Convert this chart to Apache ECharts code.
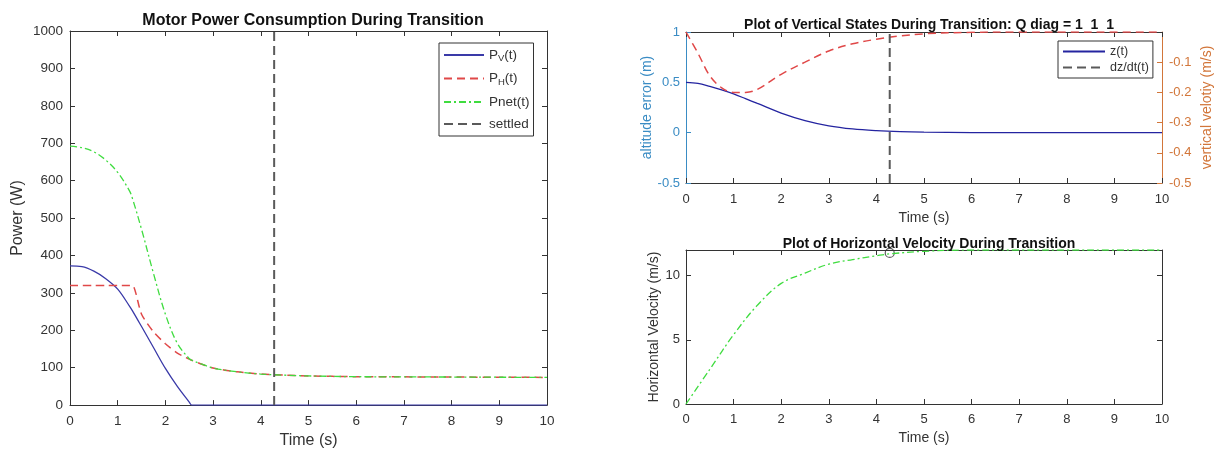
<!DOCTYPE html>
<html>
<head>
<meta charset="UTF-8"/>
<title>Transition plots</title>
<script src="https://cdn.jsdelivr.net/npm/echarts@6.0.0/dist/echarts.min.js"></script>
<style>
  html, body { margin: 0; padding: 0; background: #fff; }
  #chart { width: 1219px; height: 454px; }
</style>
</head>
<body>
<div id="chart"></div>
<script>
// ---- data ----
const settledT = 4.28;

// left plot: motor power (W)
const timeP = [0, 0.25, 0.5, 0.75, 1.0, 1.25, 1.31, 1.5, 1.75, 2.0, 2.25, 2.5, 2.55, 2.75, 3.0, 3.5, 4.0, 4.5, 5, 6, 7, 8, 9, 10];
const powerV = [372, 370, 358, 338, 310, 264, 252, 210, 154, 98, 50, 8, 0, 0, 0, 0, 0, 0, 0, 0, 0, 0, 0, 0];
const powerH = [320, 320, 320, 320, 320, 320, 320, 243, 196, 164, 139, 123, 120, 110, 99, 89, 83, 80, 78, 76, 75.5, 75, 74.5, 74];
const powerNet = [692, 688, 677, 655, 622, 572, 552, 470, 352, 243, 165, 124, 120, 110, 99, 89, 83, 80, 78, 76, 75.5, 75, 74.5, 74];

// top right: vertical states
const timeV = [0, 0.25, 0.5, 0.75, 1.0, 1.25, 1.5, 2, 2.5, 3, 3.5, 4, 4.5, 5, 6, 7, 8, 9, 10];
const altErr = [0.5, 0.49, 0.46, 0.425, 0.385, 0.338, 0.29, 0.195, 0.12, 0.068, 0.037, 0.02, 0.01, 0.005, 0.001, 0, 0, 0, 0];
const vertVel = [0, -0.07, -0.145, -0.185, -0.2, -0.2, -0.19, -0.14, -0.1, -0.063, -0.039, -0.024, -0.013, -0.006, -0.001, 0, 0, 0, 0];

// bottom right: horizontal velocity (m/s)
const timeH = [0, 0.5, 1.0, 1.5, 2.0, 2.5, 3.0, 3.5, 4.0, 4.28, 5, 6, 7, 8, 9, 10];
const horizVel = [0, 2.7, 5.4, 7.7, 9.4, 10.2, 10.9, 11.25, 11.55, 11.7, 11.9, 12, 12, 12, 12, 12];
const settledMark = [[settledT, 11.77]];

const pairs = (xs, ys) => xs.map((x, i) => [x, ys[i]]);

const FONT = 'Liberation Sans, Arial, Helvetica, sans-serif';
const INK = '#333';
const LEFT_C = '#3a8cc4';
const RIGHT_C = '#d2763a';
const plain = v => String(v);

function xAxis(grid, pos, opts) {
  return Object.assign({
    type: 'value', gridIndex: grid, position: pos, min: 0, max: 10, interval: 1,
    axisLine: { show: true, onZero: false, lineStyle: { color: INK, width: 1 } },
    axisTick: { show: true, inside: true, length: 5, lineStyle: { color: INK } },
    axisLabel: { show: pos === 'bottom', color: INK, fontFamily: FONT, fontSize: 13.5, margin: 9 },
    splitLine: { show: false }
  }, opts || {});
}
function yAxis(grid, pos, min, max, interval, color, opts) {
  return Object.assign({
    type: 'value', gridIndex: grid, position: pos, min: min, max: max, interval: interval,
    axisLine: { show: true, onZero: false, lineStyle: { color: color, width: 1 } },
    axisTick: { show: true, inside: true, length: 5, lineStyle: { color: color } },
    axisLabel: { show: false, color: color, fontFamily: FONT, fontSize: 13, margin: 7 },
    splitLine: { show: false }
  }, opts || {});
}

const titleStyle = { fontFamily: FONT, fontWeight: 'bold', color: '#111' };

const option = {
  animation: false,
  backgroundColor: '#fff',
  title: [
    { text: 'Motor Power Consumption During Transition', left: 308, top: 8, textAlign: 'center',
      textStyle: Object.assign({ fontSize: 16 }, titleStyle) },
    { text: 'Plot of Vertical States During Transition: Q diag = 1  1  1', left: 924, top: 13, textAlign: 'center',
      textStyle: Object.assign({ fontSize: 14 }, titleStyle) },
    { text: 'Plot of Horizontal Velocity During Transition', left: 924, top: 232, textAlign: 'center',
      textStyle: Object.assign({ fontSize: 14 }, titleStyle) }
  ],
  grid: [
    { left: 70, top: 31, width: 477, height: 376 },
    { left: 686, top: 32, width: 476, height: 151 },
    { left: 686, top: 250, width: 476, height: 154 }
  ],
  xAxis: [
    xAxis(0, 'bottom', { name: 'Time (s)', nameLocation: 'middle', nameGap: 27,
      nameTextStyle: { color: INK, fontFamily: FONT, fontSize: 16 } }),
    xAxis(0, 'top'),
    xAxis(1, 'bottom', { name: 'Time (s)', nameLocation: 'middle', nameGap: 28,
      nameTextStyle: { color: INK, fontFamily: FONT, fontSize: 14 },
      axisLabel: { show: true, color: INK, fontFamily: FONT, fontSize: 13, margin: 10 } }),
    xAxis(1, 'top'),
    xAxis(2, 'bottom', { name: 'Time (s)', nameLocation: 'middle', nameGap: 27,
      nameTextStyle: { color: INK, fontFamily: FONT, fontSize: 14 },
      axisLabel: { show: true, color: INK, fontFamily: FONT, fontSize: 13, margin: 9 } }),
    xAxis(2, 'top')
  ],
  yAxis: [
    yAxis(0, 'left', 0, 1000, 100, INK, {
      name: 'Power (W)', nameLocation: 'middle', nameGap: 44,
      nameTextStyle: { color: INK, fontFamily: FONT, fontSize: 16 },
      axisLabel: { show: true, formatter: plain, color: INK, fontFamily: FONT, fontSize: 13.5, margin: 7 } }),
    yAxis(0, 'right', 0, 1000, 100, INK),
    yAxis(1, 'left', -0.5, 1, 0.5, LEFT_C, {
      name: 'altitude error (m)', nameLocation: 'middle', nameGap: 29,
      nameTextStyle: { color: LEFT_C, fontFamily: FONT, fontSize: 14 },
      axisLabel: { show: true, color: LEFT_C, fontFamily: FONT, fontSize: 13, margin: 6 } }),
    yAxis(1, 'right', -0.5, 0, 0.1, RIGHT_C, {
      name: 'vertical velotiy (m/s)', nameLocation: 'middle', nameGap: 38,
      nameTextStyle: { color: RIGHT_C, fontFamily: FONT, fontSize: 14 },
      axisLabel: { show: true, showMaxLabel: false, color: RIGHT_C, fontFamily: FONT, fontSize: 13, margin: 7 } }),
    yAxis(2, 'left', 0, 12, 5, INK, {
      name: 'Horizontal Velocity (m/s)', nameLocation: 'middle', nameGap: 23,
      nameTextStyle: { color: INK, fontFamily: FONT, fontSize: 14 },
      axisLabel: { show: true, showMaxLabel: false, color: INK, fontFamily: FONT, fontSize: 13, margin: 6 } }),
    yAxis(2, 'right', 0, 12, 5, INK)
  ],
  legend: [
    {
      data: ['P_V(t)', 'P_H(t)', 'Pnet(t)', 'settled'],
      orient: 'vertical', left: 439, top: 43,
      itemWidth: 40, itemHeight: 14, itemGap: 8,
      padding: [5, 4, 5, 4],
      borderColor: '#333', borderWidth: 1, backgroundColor: '#fff',
      itemStyle: { opacity: 0 },
      textStyle: { fontFamily: FONT, fontSize: 13.5, color: INK,
        rich: { sub: { fontFamily: FONT, fontSize: 9.5, color: INK, padding: [7, 0, 0, 0] } } },
      formatter: function (name) {
        if (name === 'P_V(t)') return 'P{sub|V}(t)';
        if (name === 'P_H(t)') return 'P{sub|H}(t)';
        return name;
      }
    },
    {
      data: ['z(t)', 'dz/dt(t)'],
      orient: 'vertical', left: 1058, top: 41,
      itemWidth: 42, itemHeight: 12, itemGap: 3,
      padding: [4, 4, 4, 4],
      borderColor: '#333', borderWidth: 1, backgroundColor: '#fff',
      itemStyle: { opacity: 0 },
      textStyle: { fontFamily: FONT, fontSize: 12.5, color: INK }
    }
  ],
  series: [
    { name: 'P_V(t)', type: 'line', xAxisIndex: 0, yAxisIndex: 0, symbol: 'none', smooth: 0.35,
      data: pairs(timeP, powerV), lineStyle: { color: '#3a3aa8', width: 1.3 }, itemStyle: { color: '#3a3aa8' } },
    { name: 'P_H(t)', type: 'line', xAxisIndex: 0, yAxisIndex: 0, symbol: 'none', smooth: 0.25,
      data: pairs(timeP, powerH), lineStyle: { color: '#e04848', width: 1.5, type: [8, 5] }, itemStyle: { color: '#e04848' } },
    { name: 'Pnet(t)', type: 'line', xAxisIndex: 0, yAxisIndex: 0, symbol: 'none', smooth: 0.35,
      data: pairs(timeP, powerNet), lineStyle: { color: '#3fdc3f', width: 1.3, type: [7, 3, 2, 3] }, itemStyle: { color: '#3fdc3f' } },
    { name: 'settled', type: 'line', xAxisIndex: 0, yAxisIndex: 0, symbol: 'none',
      data: [[settledT, 0], [settledT, 1000]], lineStyle: { color: '#5a5a5a', width: 2, type: [9, 5] }, itemStyle: { color: '#5a5a5a' } },

    { name: 'z(t)', type: 'line', xAxisIndex: 2, yAxisIndex: 2, symbol: 'none', smooth: 0.35,
      data: pairs(timeV, altErr), lineStyle: { color: '#2424a0', width: 1.3 }, itemStyle: { color: '#2424a0' } },
    { name: 'vz', type: 'line', xAxisIndex: 2, yAxisIndex: 3, symbol: 'none', smooth: 0.35,
      data: pairs(timeV, vertVel), lineStyle: { color: '#e04848', width: 1.5, type: [8, 5] }, itemStyle: { color: '#e04848' } },
    { name: 'dz/dt(t)', type: 'line', xAxisIndex: 2, yAxisIndex: 2, symbol: 'none',
      data: [[settledT, -0.5], [settledT, 0.98]], lineStyle: { color: '#5a5a5a', width: 2, type: [9, 5] }, itemStyle: { color: '#5a5a5a' } },

    { name: 'vh', type: 'line', xAxisIndex: 4, yAxisIndex: 4, symbol: 'none', smooth: 0.35,
      data: pairs(timeH, horizVel), lineStyle: { color: '#3fdc3f', width: 1.3, type: [7, 3, 2, 3] } },
    { name: 'mark', type: 'scatter', xAxisIndex: 4, yAxisIndex: 4, symbol: 'circle', symbolSize: 9,
      data: settledMark, itemStyle: { color: 'rgba(0,0,0,0)', borderColor: '#333', borderWidth: 1.2 } }
  ]
};

const chart = echarts.init(document.getElementById('chart'));
chart.setOption(option);
</script>
</body>
</html>
